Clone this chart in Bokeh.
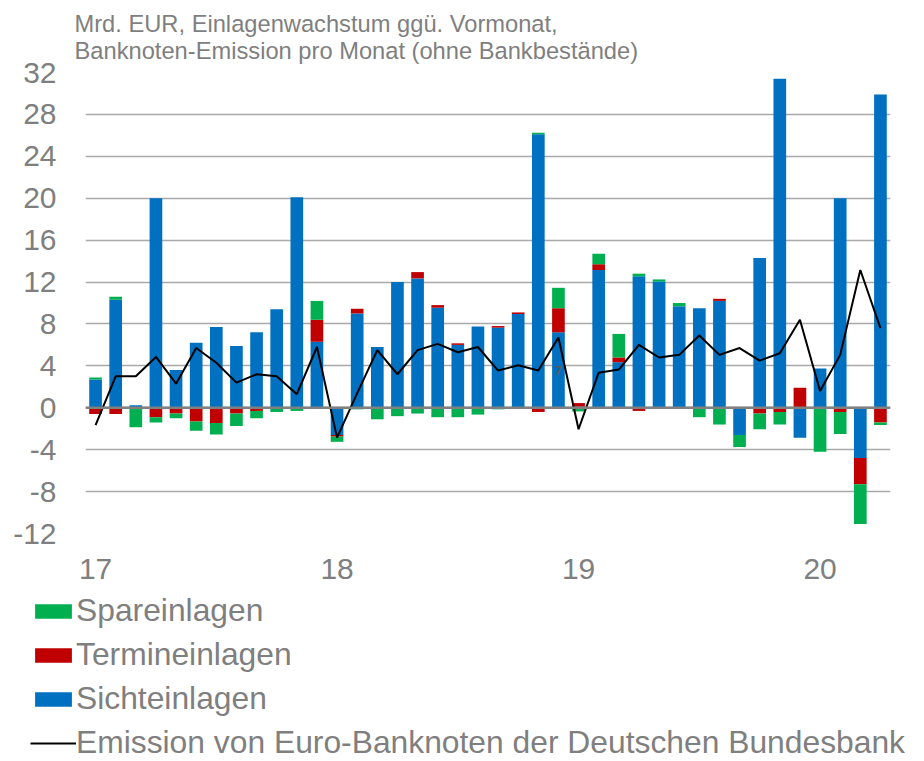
import numpy as np
from bokeh.plotting import figure
from bokeh.models import (ColumnDataSource, FixedTicker, Span, Legend, LegendItem, Title, Range1d)
from bokeh.core.properties import value
from bokeh.embed import file_html
from bokeh.resources import INLINE

# ---------------- data (Jan 2017 .. Apr 2020, monthly, Mrd. EUR) ----------------
months = ["2017-%02d" % m for m in range(1, 13)] + ["2018-%02d" % m for m in range(1, 13)] + \
         ["2019-%02d" % m for m in range(1, 13)] + ["2020-%02d" % m for m in range(1, 5)]

sichteinlagen = [2.7, 10.3, 0.25, 20.0, 3.6, 6.2, 7.7, 5.9, 7.2, 9.4,
                 20.1, 6.3, -2.6, 9.0, 5.8, 12.0, 12.35, 9.55, 6.0, 7.75,
                 7.65, 8.95, 26.1, 7.2, 0.1, 13.15, 4.35, 12.55, 12.05, 9.7,
                 9.5, 10.2, -2.6, 14.3, 31.4, -2.85, 3.75, 20.0, -4.8, 29.9]
termineinlagen = [-0.6, -0.6, 0.0, -0.9, -0.55, -1.3, -1.45, -0.55, -0.3, 0.0,
                  0.0, 2.1, -0.15, 0.45, 0.0, 0.0, 0.6, 0.25, 0.15, 0.0,
                  0.15, 0.15, -0.4, 2.3, 0.35, 0.55, 0.45, -0.3, -0.1, 0.0,
                  0.0, 0.2, 0.0, -0.55, -0.4, 1.9, 0.0, -0.4, -2.5, -1.4]
spareinlagen = [0.2, 0.3, -1.85, -0.5, -0.45, -0.9, -1.1, -1.2, -0.7, -0.4,
                -0.3, 1.8, -0.5, -0.15, -1.1, -0.8, -0.55, -0.9, -0.9, -0.65,
                -0.15, 0.0, 0.15, 1.95, -0.35, 1.0, 2.25, 0.25, 0.2, 0.3,
                -0.9, -1.6, -1.15, -1.5, -1.2, 0.0, -4.2, -2.1, -3.8, -0.25]
emission = [-1.65, 3.0, 3.0, 4.85, 2.3, 5.7, 4.3, 2.4, 3.2, 3.0,
            1.3, 5.8, -2.85, 1.4, 5.5, 3.2, 5.5, 6.1, 5.3, 5.8,
            3.55, 4.05, 3.55, 6.7, -2.05, 3.35, 3.65, 6.0, 4.8, 5.05,
            6.9, 5.05, 5.7, 4.5, 5.2, 8.4, 1.6, 5.05, 13.15, 7.6]

x_tick_pos = [0, 12, 24, 36]
x_tick_labels = ["17", "18", "19", "20"]
y_ticks = [-12, -8, -4, 0, 4, 8, 12, 16, 20, 24, 28, 32]
y_tick_labels = ["-12", "-8", "-4", "0", "4", "8", "12", "16", "20", "24", "28", "32"]

note_x = [23]
note_y = [3.55]
note_text = ["7"]

title_text = "Mrd. EUR, Einlagenwachstum ggü. Vormonat,\nBanknoten-Emission pro Monat (ohne Bankbestände)"

series_names = ["Sichteinlagen", "Termineinlagen", "Spareinlagen"]
series_values = [sichteinlagen, termineinlagen, spareinlagen]
series_colors = ["#0070C0", "#C00000", "#00B050"]
legend_order = ["Spareinlagen", "Termineinlagen", "Sichteinlagen"]
line_name = "Emission von Euro-Banknoten der Deutschen Bundesbank"

# ---------------- main chart ----------------
GRAY = "#7F7F7F"
FONT = "Liberation Sans"

p = figure(width=916, height=593, output_backend="svg", toolbar_location=None,
           x_range=(-0.5, 39.5), y_range=(-12, 32),
           min_border_left=85, min_border_right=26, min_border_top=70, min_border_bottom=60)
p.outline_line_color = None
p.background_fill_color = "white"
p.border_fill_color = "white"

idx = np.arange(len(months))
pos = np.zeros(len(months))
neg = np.zeros(len(months))
for name, vals, col in zip(series_names, series_values, series_colors):
    v = np.array(vals, dtype=float)
    bottom = np.where(v >= 0, pos, neg)
    top = bottom + v
    pos = np.where(v >= 0, top, pos)
    neg = np.where(v < 0, top, neg)
    src = ColumnDataSource(dict(x=idx, bottom=bottom, top=top))
    p.vbar(x="x", bottom="bottom", top="top", width=0.63, source=src,
           fill_color=col, line_color=None)

zero = Span(location=0, dimension="width", line_color="#808080", line_width=2.5)
p.add_layout(zero)

p.line(idx, emission, line_color="black", line_width=2)

p.text(x=note_x, y=note_y, text=note_text, text_font=value(FONT), text_font_size="13px",
       text_color="#595959", text_align="center", text_baseline="middle", text_font_style="bold")

# grid
p.xgrid.visible = False
p.ygrid.ticker = FixedTicker(ticks=y_ticks)
p.ygrid.grid_line_color = "#A9A9A9"
p.ygrid.grid_line_width = 1.5

# axes
p.yaxis.ticker = FixedTicker(ticks=y_ticks)
p.yaxis.major_label_overrides = {t: l for t, l in zip(y_ticks, y_tick_labels)}
p.yaxis.axis_line_color = None
p.yaxis.major_tick_line_color = None
p.yaxis.minor_tick_line_color = None
p.yaxis.major_tick_out = 0
p.yaxis.major_label_standoff = 29
p.yaxis.major_label_text_font = FONT
p.yaxis.major_label_text_font_size = "30px"
p.yaxis.major_label_text_color = GRAY

p.xaxis.ticker = FixedTicker(ticks=x_tick_pos)
p.xaxis.major_label_overrides = {t: l for t, l in zip(x_tick_pos, x_tick_labels)}
p.xaxis.axis_line_color = None
p.xaxis.major_tick_line_color = None
p.xaxis.minor_tick_line_color = None
p.xaxis.major_tick_out = 0
p.xaxis.major_label_standoff = 25
p.xaxis.major_label_text_font = FONT
p.xaxis.major_label_text_font_size = "30px"
p.xaxis.major_label_text_color = GRAY

t = Title(text=title_text, text_font=FONT, text_font_size="23.7px", text_font_style="normal",
          text_color=GRAY, align="left", offset=-11, standoff=16, text_line_height=1.06)
p.add_layout(t, "above")

# ---------------- legend strip (separate root, so its frame is not aligned to the chart) ----
lf = figure(width=916, height=168, output_backend="svg", toolbar_location=None,
            x_axis_location=None, y_axis_location=None, min_border=0,
            x_range=Range1d(0, 1), y_range=Range1d(0, 1))
lf.outline_line_color = None
lf.grid.visible = False
lf.background_fill_color = "white"
lf.border_fill_color = "white"

# legend proxies: one point each, placed outside the visible range (only their styles are shown)
proxy_x = [-9.0]
proxy_y = [-9.0]
color_of = dict(zip(series_names, series_colors))
items = []
for name in legend_order:
    r = lf.vbar(x=proxy_x, top=proxy_y, width=0.5, fill_color=color_of[name], line_color=None)
    items.append(LegendItem(label=name, renderers=[r]))
rl = lf.line(x=proxy_x * 2, y=proxy_y * 2, line_color="black", line_width=2)
items.append(LegendItem(label=line_name, renderers=[rl]))

legend = Legend(items=items, location=(30, 0), orientation="vertical",
                label_text_font=FONT, label_text_font_size="31.8px", label_text_color=GRAY,
                glyph_width=46, glyph_height=18, label_height=34, spacing=7, padding=0, margin=0,
                label_standoff=0, border_line_color=None, background_fill_alpha=0)
lf.add_layout(legend, "center")

open("out.html", "w").write(file_html([p, lf], INLINE))
